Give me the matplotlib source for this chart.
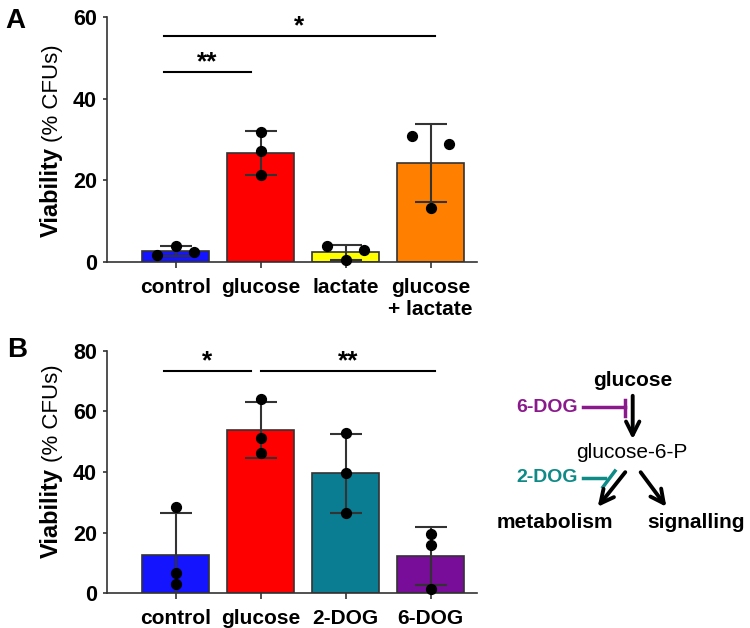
import matplotlib
matplotlib.use("Agg")
import matplotlib.pyplot as plt
import numpy as np

plt.rcParams['font.family'] = ['Liberation Sans', 'DejaVu Sans']

# panel A data
labels_a = ['control', 'glucose', 'lactate', 'glucose\n+ lactate']
means_a = [2.85, 26.7, 2.4, 24.3]
sd_a = [1.2, 5.3, 1.9, 9.6]
points_a = [[1.8, 4.1, 2.4], [31.9, 27.3, 21.3], [4.1, 0.5, 3.0], [30.9, 13.3, 28.9]]
colors_a = ['#1414ff', '#ff0000', '#ffff00', '#ff8000']

# panel B data
labels_b = ['control', 'glucose', '2-DOG', '6-DOG']
means_b = [12.5, 53.8, 39.6, 12.2]
sd_b = [14.0, 9.3, 13.0, 9.6]
points_b = [[28.5, 6.6, 3.0], [64.2, 51.3, 46.3], [52.7, 39.7, 26.6], [19.7, 15.8, 1.5]]
colors_b = ['#1414ff', '#ff0000', '#0a7d92', '#780d99']

# significance bars: (x1, x2, y, text)
sig_a = [(-0.14, 0.89, 46.4, '**'), (-0.14, 3.05, 55.2, '*')]
sig_b = [(-0.14, 0.89, 73.3, '*'), (1.01, 3.05, 73.3, '**')]

# horizontal jitter of the dots
jit_a = [[-0.22, 0, 0.22], [0, 0, 0], [-0.22, 0, 0.22], [-0.22, 0, 0.22]]
jit_b = [[0, 0, 0]] * 4

W, H = 750, 628
fig = plt.figure(figsize=(7.5, 6.28), dpi=100)


def panel(rect, labels, means, sd, pts, cols, jit, sig, ymax, ystep):
    ax = fig.add_axes(rect)
    x = np.arange(len(labels))
    ax.bar(x, means, width=0.79, color=cols, edgecolor='#333333', linewidth=1.2, zorder=2)
    ax.errorbar(x, means, yerr=sd, fmt='none', ecolor='#333333', elinewidth=1.5,
                capsize=11.5, capthick=1.5, zorder=3)
    for i in range(len(labels)):
        ax.scatter(x[i] + np.array(jit[i]), pts[i], s=50, color='black', zorder=4, clip_on=False)
    for x1, x2, y, t in sig:
        ax.plot([x1, x2], [y, y], color='black', lw=1.5, clip_on=False)
        ax.annotate(t, xy=((x1 + x2) / 2, y), xytext=(0, 2), textcoords='offset points',
                    ha='center', va='baseline', fontsize=19, fontweight='bold')
    ax.set_xlim(-0.81, 3.545)
    ax.set_ylim(0, ymax)
    ax.set_yticks(np.arange(0, ymax + 1, ystep))
    ax.set_xticks(x)
    ax.set_xticklabels(labels, fontsize=15, fontweight='bold', linespacing=1.25)
    for lab in ax.get_yticklabels():
        lab.set_fontsize(15.5)
        lab.set_fontweight('bold')
    ax.spines['top'].set_visible(False)
    ax.spines['right'].set_visible(False)
    for s in ['left', 'bottom']:
        ax.spines[s].set_color('#333333')
        ax.spines[s].set_linewidth(1.2)
    ax.tick_params(axis='y', length=3, width=1.2, color='#333333', pad=4)
    ax.tick_params(axis='x', length=4, width=1.2, color='#333333', pad=7)
    return ax


axA = panel([106.7 / W, 1 - 262.3 / H, 370.3 / W, 245.6 / H], labels_a, means_a, sd_a,
            points_a, colors_a, jit_a, sig_a, 60, 20)
axB = panel([106.7 / W, 1 - 593.3 / H, 370.3 / W, 242.6 / H], labels_b, means_b, sd_b,
            points_b, colors_b, jit_b, sig_b, 80, 20)

# y labels (baseline at x=58 px) and panel letters
for y_via, y_cfu in [(237, 142), (558, 462)]:
    fig.text(58 / W, 1 - y_via / H, 'Viability', rotation=90, rotation_mode='anchor',
             ha='left', va='baseline', fontsize=17, fontweight='bold')
    fig.text(58 / W, 1 - y_cfu / H, '(% CFUs)', rotation=90, rotation_mode='anchor',
             ha='left', va='baseline', fontsize=16)
fig.text(5 / W, 1 - 8 / H, 'A', ha='left', va='top', fontsize=20, fontweight='bold')
fig.text(7 / W, 1 - 337 / H, 'B', ha='left', va='top', fontsize=20, fontweight='bold')

# pathway diagram
dg = fig.add_axes([0, 0, 1, 1])
dg.set_xlim(0, W)
dg.set_ylim(H, 0)
dg.axis('off')
purple = '#8a1a8c'
teal = '#0e8a87'
arrow = dict(arrowstyle='->', color='black', lw=2.8, mutation_scale=24)
dg.text(632.5, 381, 'glucose', ha='center', va='center', fontsize=15, fontweight='bold')
dg.annotate('', xy=(632.7, 442), xytext=(632.7, 393), arrowprops=arrow)
dg.text(547, 407, '6-DOG', ha='center', va='center', fontsize=14, fontweight='bold', color=purple)
dg.plot([583, 625], [407, 407], color=purple, lw=2.5)
dg.plot([625, 625], [400, 416], color=purple, lw=2.5)
dg.text(632, 452, 'glucose-6-P', ha='center', va='center', fontsize=15)
dg.annotate('', xy=(596, 509), xytext=(627, 470), arrowprops=arrow)
dg.annotate('', xy=(668, 509), xytext=(639, 470), arrowprops=arrow)
dg.text(547, 478, '2-DOG', ha='center', va='center', fontsize=14, fontweight='bold', color=teal)
dg.plot([583, 605], [478, 478], color=teal, lw=2.5)
dg.plot([603, 615], [487, 471], color=teal, lw=2.5)
dg.text(555, 523, 'metabolism', ha='center', va='center', fontsize=15, fontweight='bold')
dg.text(696, 523, 'signalling', ha='center', va='center', fontsize=15, fontweight='bold')

fig.savefig('out.png', dpi=100)
